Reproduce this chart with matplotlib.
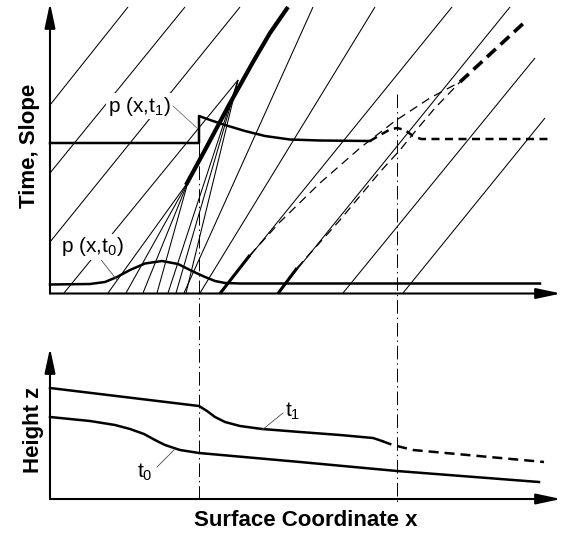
import numpy as np
import matplotlib.pyplot as plt

# Characteristics sketch: time/slope diagram on top, surface height below.
# Everything is laid out in one drawing frame (x to the right, y downward).

plt.rcParams['font.family'] = 'Liberation Sans'
plt.rcParams['mathtext.fontset'] = 'custom'
plt.rcParams['mathtext.rm'] = 'Liberation Sans'
plt.rcParams['mathtext.it'] = 'Liberation Sans'

# ---- top panel -------------------------------------------------------------
top_axis_y = 293.5
x_start = 50

# slope profile at t0 (baseline with a bump)
p0_x = [50, 90, 105, 117, 130, 145, 162, 178, 192, 205, 215, 225, 240, 540]
p0_y = [284.5, 284, 282, 277, 270, 263.5, 261, 264, 271, 277, 281, 283, 283.5, 283.5]

# slope profile at t1: step at the shock, then decay
p1_x = [50, 199, 199, 210, 225, 245, 265, 290, 320, 370]
p1_y = [143, 143, 116, 120, 125, 131, 136, 139.5, 140.5, 141]
p1_dash_x = [370, 380, 390, 397, 405, 413, 421, 548]
p1_dash_y = [141, 135, 129.5, 128, 130, 136, 139, 139]

# shock path
shock_x = [186, 205, 229, 253, 270, 288]
shock_y = [185, 150, 105, 62, 33, 7]

# characteristics: start point -> end point
char_x0 = [50, 50, 50, 64, 108, 126, 143, 157, 168, 176, 186, 184, 200, 220, 278, 343, 403]
char_y0 = [105, 173, 242, 293, 293, 293, 293, 293, 293, 293, 293, 293, 293, 293, 293, 293, 293]
char_x1 = [128, 185, 240, 238, 188, 188, 188, 188, 238, 238, 238, 313, 375, 452, 510, 535, 545]
char_y1 = [7, 7, 7, 80, 182, 182, 182, 182, 80, 80, 80, 7, 7, 7, 7, 58, 118]

# short bold pieces where two characteristics start together
base_x0 = [220, 278]
base_x1 = [250, 297]
base_y1 = [255, 268]

# later characteristics (dashed) meeting in a second shock
d1_x = [250, 280, 320, 360, 395, 430, 460]
d1_y = [255, 222, 183, 148, 121, 98, 82]
d2_x = [297, 340, 380, 400, 413, 435, 460]
d2_y = [268, 220, 172, 150, 134, 108, 82]
shock2_x = [460, 527]
shock2_y = [82, 20]

# time marks t0 / t1
mark_x = [199, 397]
mark_top = [143, 94]

# ---- bottom panel ------------------------------------------------------------
bot_axis_y = 499
z0_x = [50, 90, 115, 130, 144, 155, 165, 180, 199, 300, 397, 539]
z0_y = [417, 421, 425, 429, 434, 440, 445, 450, 453, 462, 471, 482]
z1_x = [50, 199, 207, 215, 225, 240, 262, 300, 340, 373, 382]
z1_y = [388, 406, 411, 417, 422, 426, 429, 432, 435, 438, 441]
z1_dash_x = [382, 390, 397, 413, 544]
z1_dash_y = [441, 444, 446, 450, 462]

fig = plt.figure(figsize=(5.63, 5.38), dpi=100)
ax = fig.add_axes([0, 0, 1, 1])
ax.set_xlim(0, 563)
ax.set_ylim(538, 0)
ax.axis('off')

thin = 0.75
K = 'black'

# characteristics
for xa, ya, xb, yb in zip(char_x0, char_y0, char_x1, char_y1):
    ax.plot([xa, xb], [ya, yb], color=K, lw=thin, solid_capstyle='butt')
for xa, xb, yb in zip(base_x0, base_x1, base_y1):
    ax.plot([xa, xb], [top_axis_y, yb], color=K, lw=2.2, solid_capstyle='butt')

ax.plot(d1_x, d1_y, color=K, lw=0.9, ls=(0, (7, 4.5)))
ax.plot(d2_x, d2_y, color=K, lw=0.9, ls=(0, (7, 4.5)))
ax.plot(shock2_x, shock2_y, color=K, lw=2.6, ls=(0, (3.3, 1.8)))

ax.plot(shock_x, shock_y, color=K, lw=3.0, solid_capstyle='butt')

# slope profiles
ax.plot(p0_x, p0_y, color=K, lw=1.8)
ax.plot(p1_x, p1_y, color=K, lw=1.8)
ax.plot(p1_dash_x, p1_dash_y, color=K, lw=1.8, ls=(0, (3.2, 2.2)))

# dash-dot time marks running through both panels
for xm, ym in zip(mark_x, mark_top):
    ax.plot([xm, xm], [ym, bot_axis_y + 3], color=K, lw=0.7,
            ls=(0, (14, 4, 1.5, 4)))

# height profiles
ax.plot(z0_x, z0_y, color=K, lw=1.8)
ax.plot(z1_x, z1_y, color=K, lw=1.8)
ax.plot(z1_dash_x, z1_dash_y, color=K, lw=1.8, ls=(0, (4, 2.4)))

# axes with arrow heads
arrow = dict(arrowstyle='-|>,head_length=1.5,head_width=0.32', lw=1.5,
             color=K, shrinkA=0, shrinkB=0, mutation_scale=10)
ax.annotate('', xy=(x_start, 3), xytext=(x_start, top_axis_y), arrowprops=arrow)
ax.annotate('', xy=(561, top_axis_y), xytext=(x_start, top_axis_y), arrowprops=arrow)
ax.annotate('', xy=(x_start, 348), xytext=(x_start, bot_axis_y), arrowprops=arrow)
ax.annotate('', xy=(561, bot_axis_y), xytext=(x_start, bot_axis_y), arrowprops=arrow)

# labels
box = dict(facecolor='white', edgecolor='none', pad=1.0)
ax.text(139, 106, r'p (x,t$_1$)', fontsize=15, ha='center', va='center', bbox=box, zorder=5)
ax.plot([173, 197], [106, 128], color='0.45', lw=0.6)
ax.text(92, 247, r'p (x,t$_0$)', fontsize=15, ha='center', va='center', bbox=box, zorder=5)
ax.plot([98, 117], [256, 280], color='0.3', lw=0.6)

ax.text(293, 411, r't$_1$', fontsize=15, ha='center', va='center')
ax.plot([262, 283], [430, 413], color='0.3', lw=0.6)
ax.text(145, 472, r't$_0$', fontsize=15, ha='center', va='center')
ax.plot([157, 175], [467, 449], color='0.3', lw=0.6)

ax.text(30, 146, 'Time, Slope', fontsize=16, fontweight='bold', rotation=90,
        ha='center', va='center')
ax.text(33, 430, 'Height z', fontsize=16, fontweight='bold', rotation=90,
        ha='center', va='center')
ax.text(306, 520, 'Surface Coordinate x', fontsize=16, fontweight='bold',
        ha='center', va='center')

fig.savefig('out.png', dpi=100)
